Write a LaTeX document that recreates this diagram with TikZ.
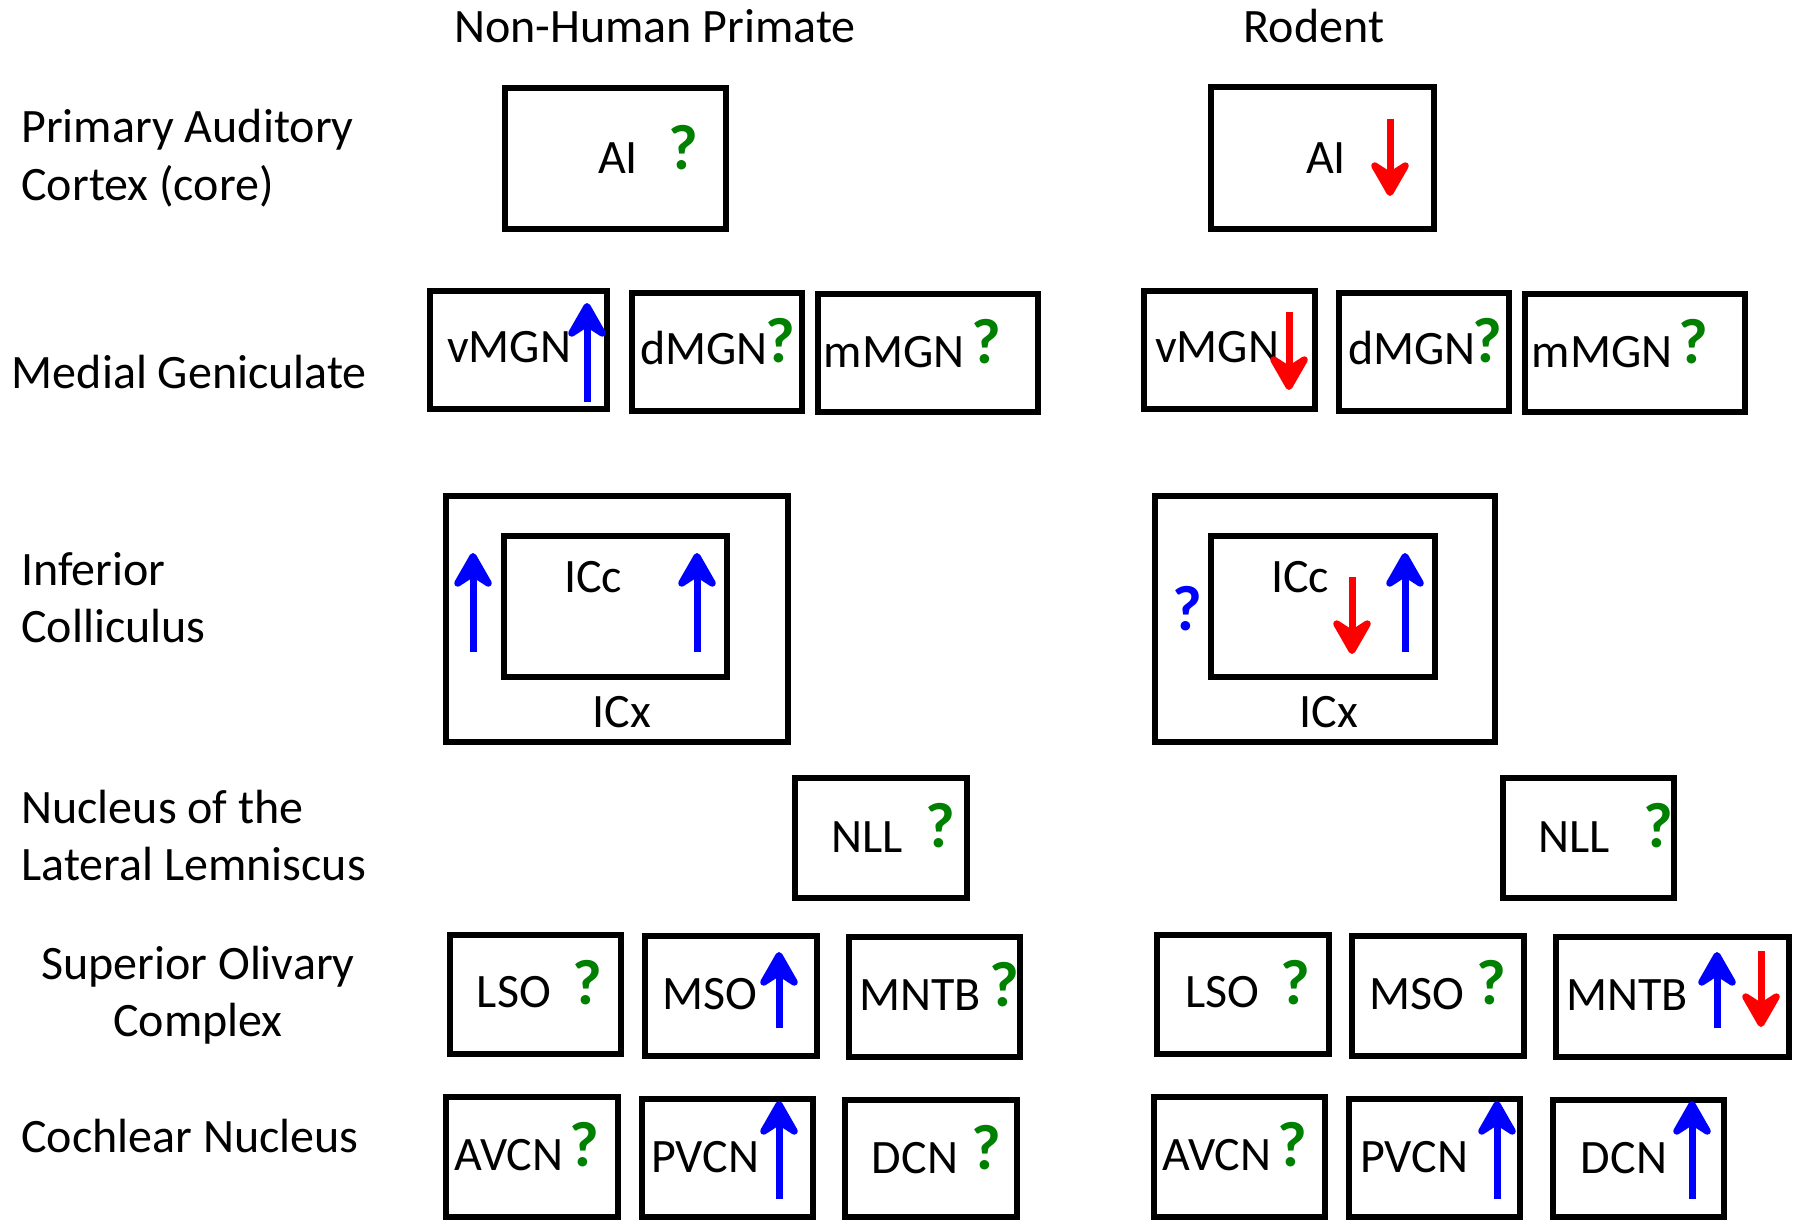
\documentclass[tikz,border=0pt]{standalone}
\usepackage{fontspec}
\setmainfont{Carlito}
\usetikzlibrary{arrows.meta,fit}
\definecolor{qgreen}{RGB}{0,128,0}
\definecolor{upblue}{RGB}{0,0,255}
\definecolor{downred}{RGB}{255,0,0}
\tikzset{
  region/.style={draw=black, line width=2.6pt, inner sep=0pt, outer sep=0pt},
  lbl/.style={font=\fontsize{24}{29}\selectfont, inner sep=0pt, anchor=base},
  rowlbl/.style={lbl, anchor=base west},
  qmark/.style={font=\fontsize{32}{38}\selectfont\bfseries, text=qgreen, inner sep=0pt},
  trend/.style={line width=3.5pt, -{Stealth[width=25pt,length=22pt,inset=8pt,round]}},
  rise/.style={trend, draw=upblue},
  fall/.style={trend, draw=downred},
}
% \regionbox{name}{x1}{y1}{x2}{y2}: outlined nucleus box between two corners
\newcommand\regionbox[5]{\node[region, fit={(#2,#3) (#4,#5)}] (#1) {};}
\begin{document}
\begin{tikzpicture}[x=0.5pt,y=-0.5pt]
\useasboundingbox (0,0) rectangle (1798,1220);

% column headings
\node[lbl] (hPrimate) at (655,42.5) {Non-Human Primate};
\node[lbl] (hRodent) at (1314,42.5) {Rodent};

% row headings
\node[rowlbl] (rA1) at (21,142.5) {Primary Auditory};
\node[rowlbl] (rA2) at (21,200.5) {Cortex (core)};
\node[rowlbl] (rMG) at (11.5,388) {Medial Geniculate};
\node[rowlbl] (rIC1) at (21,585) {Inferior};
\node[rowlbl] (rIC2) at (21,642) {Colliculus};
\node[rowlbl] (rLL1) at (21,823) {Nucleus of the};
\node[rowlbl] (rLL2) at (21,880.5) {Lateral Lemniscus};
\node[lbl] (rSO1) at (198,979) {Superior Olivary};
\node[lbl] (rSO2) at (198,1036) {Complex};
\node[rowlbl] (rCN) at (21,1152) {Cochlear Nucleus};

% ---------- primate column ----------
\regionbox{pAI}{505}{88}{726}{229}
\node[lbl] (pAIt) at (618,173) {AI};
\node[qmark] (pAIq) at (683,148) {?};

\regionbox{pV}{430}{291}{607}{409}
\regionbox{pD}{632}{293}{802}{411}
\regionbox{pM}{818}{294}{1038}{412}
\node[lbl] (pVt) at (509,362) {vMGN};
\node[lbl] (pDt) at (704,364.5) {dMGN};
\node[lbl] (pMt) at (894,367) {mMGN};
\node[qmark] (pDq) at (780,341) {?};
\node[qmark] (pMq) at (986,341.5) {?};
\draw[rise] (587,402) -- (587,303);

\regionbox{pICx}{446}{496}{788}{742}
\regionbox{pICc}{504}{536}{727}{677}
\node[lbl] (pICct) at (593,592) {ICc};
\node[lbl] (pICxt) at (622,727) {ICx};
\draw[rise] (473,652) -- (473,553);
\draw[rise] (697,652) -- (697,553);

\regionbox{pNLL}{795}{778}{967}{898}
\node[lbl] (pNLLt) at (867,852) {NLL};
\node[qmark] (pNLLq) at (940,826) {?};

\regionbox{pLSO}{450}{935}{621}{1054}
\regionbox{pMSO}{645}{936}{817}{1056}
\regionbox{pMNTB}{849}{937}{1020}{1057}
\node[lbl] (pLSOt) at (514,1007) {LSO};
\node[lbl] (pMSOt) at (710,1009) {MSO};
\node[lbl] (pMNTBt) at (920,1010) {MNTB};
\node[qmark] (pLSOq) at (587.5,982.5) {?};
\node[qmark] (pMNTBq) at (1004,985) {?};
\draw[rise] (779,1028) -- (779,952);

\regionbox{pAVCN}{446}{1097}{618}{1217}
\regionbox{pPVCN}{642}{1099}{813}{1217}
\regionbox{pDCN}{845}{1100}{1017}{1217}
\node[lbl] (pAVCNt) at (509,1170) {AVCN};
\node[lbl] (pPVCNt) at (705,1172) {PVCN};
\node[lbl] (pDCNt) at (915,1173) {DCN};
\node[qmark] (pAVCNq) at (584,1145) {?};
\node[qmark] (pDCNq) at (986,1148) {?};
\draw[rise] (779,1199) -- (779,1101);

% ---------- rodent column ----------
\regionbox{rAI}{1211}{87}{1434}{229}
\node[lbl] (rAIt) at (1326,173) {AI};
\draw[fall] (1390,119) -- (1390,196);

\regionbox{rV}{1144}{291}{1315}{409}
\regionbox{rD}{1339}{293}{1509}{411}
\regionbox{rM}{1525}{294}{1745}{412}
\node[lbl] (rVt) at (1217,362) {vMGN};
\node[lbl] (rDt) at (1412,364.5) {dMGN};
\node[lbl] (rMt) at (1602,367) {mMGN};
\node[qmark] (rDq) at (1487,341) {?};
\node[qmark] (rMq) at (1693.5,341.5) {?};
\draw[fall] (1289,312) -- (1289,390);

\regionbox{rICx}{1155}{496}{1495}{742}
\regionbox{rICc}{1211}{536}{1435}{677}
\node[lbl] (rICct) at (1300,592) {ICc};
\node[lbl] (rICxt) at (1329,727) {ICx};
\node[qmark, text=upblue] (rICxq) at (1187,608.5) {?};
\draw[fall] (1352,577) -- (1352,654);
\draw[rise] (1405,652) -- (1405,553);

\regionbox{rNLL}{1503}{778}{1674}{898}
\node[lbl] (rNLLt) at (1574,852) {NLL};
\node[qmark] (rNLLq) at (1658,826) {?};

\regionbox{rLSO}{1157}{935}{1329}{1054}
\regionbox{rMSO}{1352}{936}{1524}{1056}
\regionbox{rMNTB}{1556}{937}{1789}{1057}
\node[lbl] (rLSOt) at (1222,1007) {LSO};
\node[lbl] (rMSOt) at (1417,1009) {MSO};
\node[lbl] (rMNTBt) at (1627,1010) {MNTB};
\node[qmark] (rLSOq) at (1295,982.5) {?};
\node[qmark] (rMSOq) at (1491,982.5) {?};
\draw[rise] (1717,1028) -- (1717,952);
\draw[fall] (1761,951) -- (1761,1027);

\regionbox{rAVCN}{1154}{1097}{1325}{1217}
\regionbox{rPVCN}{1349}{1099}{1520}{1217}
\regionbox{rDCN}{1553}{1100}{1724}{1217}
\node[lbl] (rAVCNt) at (1217,1170) {AVCN};
\node[lbl] (rPVCNt) at (1414,1172) {PVCN};
\node[lbl] (rDCNt) at (1624,1173) {DCN};
\node[qmark] (rAVCNq) at (1292,1145) {?};
\draw[rise] (1497,1199) -- (1497,1101);
\draw[rise] (1692,1199) -- (1692,1101);
\end{tikzpicture}
\end{document}
